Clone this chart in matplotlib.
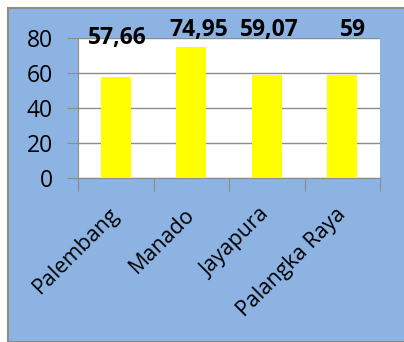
import matplotlib.pyplot as plt
from matplotlib.patches import Rectangle

plt.rcParams['font.family'] = ['Open Sans', 'DejaVu Sans']

cities = ["Palembang", "Manado", "Jayapura", "Palangka Raya"]
values = [57.66, 74.95, 59.07, 59]
labels = ["57,66", "74,95", "59,07", "59"]
label_x = [0.02, 0.1, 0.03, 0.14]   # offset from the bar centre
label_y = [80, 84.6, 84.6, 84.6]
yticks = [0, 20, 40, 60, 80]

fig = plt.figure(figsize=(4.04, 3.42), dpi=100)
fig.patch.set_facecolor("#fffefa")
# blue chart panel, behind the axes
fig.patches.append(Rectangle((8 / 404, 0), 1, 1 - 8 / 342, transform=fig.transFigure,
                             facecolor="#8db3e2", edgecolor="#8c8c8c", linewidth=1.5,
                             zorder=-1))

ax = fig.add_axes([78 / 404, 1 - 178 / 342, 302 / 404, 140 / 342])
ax.set_facecolor("white")
x = range(len(cities))
ax.bar(x, values, width=0.4, color="#ffff00", zorder=3)
ax.set_xlim(-0.5, 3.5)
ax.set_ylim(0, 80)
ax.set_yticks(yticks)
ax.yaxis.grid(True, color="#8c8c8c", linewidth=1, zorder=0)
ax.set_xticks([i - 0.5 for i in range(5)], minor=False)
ax.set_xticklabels([])
ax.set_xticks(list(x), minor=True)
ax.set_xticklabels(cities, minor=True, rotation=45, ha="right", va="center",
                   rotation_mode="anchor", fontsize=15.5)
for t in ax.get_xticklabels(minor=True):
    t.set_x(t.get_position()[0] + 0.08)
ax.tick_params(axis="x", which="major", length=9, color="#8c8c8c", direction="out")
ax.tick_params(axis="x", which="minor", length=0, pad=24)
ax.tick_params(axis="y", length=8, color="#8c8c8c", labelsize=16.5, pad=10)
for s in ["top", "right"]:
    ax.spines[s].set_visible(False)
ax.spines["left"].set_color("#8c8c8c")
ax.spines["bottom"].set_color("#8c8c8c")

for i, lab in enumerate(labels):
    ax.text(i + label_x[i], label_y[i], lab, ha="center", va="center", fontsize=16.5,
            fontweight="bold", clip_on=False, zorder=5)

fig.savefig("out.png", dpi=100, facecolor=fig.get_facecolor())
